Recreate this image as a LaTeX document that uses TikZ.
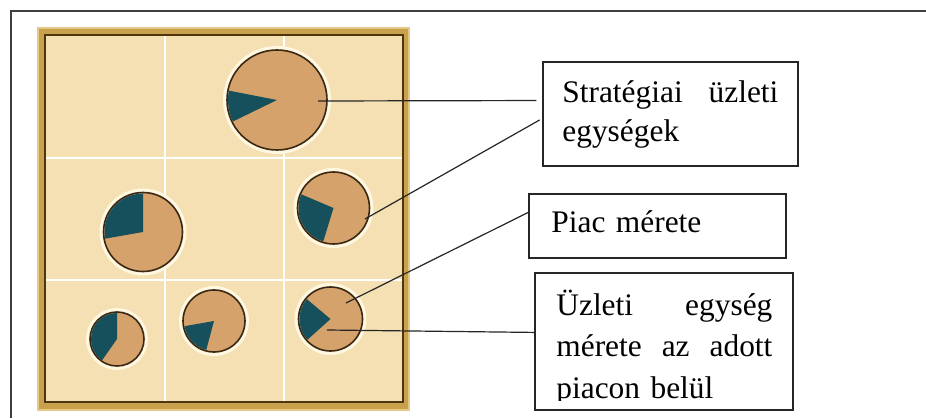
\documentclass[tikz,border=0pt]{standalone}
\usepackage{fontspec}
\setmainfont{Liberation Serif}
\usetikzlibrary{positioning}

\definecolor{panelfill}{HTML}{F4E0B2}
\definecolor{gold}{HTML}{C9A04C}
\definecolor{goldlight}{HTML}{E4C887}
\definecolor{golddark}{HTML}{4F3410}
\definecolor{sbutan}{HTML}{D6A26C}
\definecolor{sbuteal}{HTML}{15505C}
\definecolor{rim}{HTML}{3A2812}
\definecolor{halo}{HTML}{FFF7E0}

\begin{document}
\begin{tikzpicture}[
  x=0.5pt, y=0.5pt,
  sbu/.style={circle, draw=rim, line width=0.8pt, fill=sbutan, inner sep=0pt,
    preaction={draw=halo, line width=4pt}},
  sbushare/.style={fill=sbuteal},
  gridline/.style={draw=white, line width=1.2pt},
  labelbox/.style={rectangle, draw=black!85, line width=0.75pt, inner sep=0pt},
  labeltext/.style={anchor=base west, inner sep=0pt, text width=108pt, align=left,
    font=\fontsize{15.7}{19.5}\selectfont},
  leader/.style={draw=black!85, line width=0.6pt}
]
  \useasboundingbox (0,0) rectangle (926,418);
  \draw[black!75, line width=1pt] (11,0) -- (11,407) -- (926,407);

  % portfolio grid
  \draw[draw=goldlight, fill=gold, line width=0.6pt] (38,8) rectangle (409,390);
  \draw[draw=golddark, fill=panelfill, line width=1.2pt] (45,16) rectangle (403,383);
  \draw[gridline] (165,17) -- (165,382);
  \draw[gridline] (284,17) -- (284,382);
  \draw[gridline] (46,260) -- (402,260);
  \draw[gridline] (46,138) -- (402,138);

  % business units, wedge = own share
  \node[sbu, minimum size=50pt] (big) at (277,318) {};
  \fill[sbushare] (big.center) -- ++(169:49) arc[start angle=169, end angle=206, radius=49] -- cycle;
  \node[sbu, minimum size=39.5pt] (midleft) at (143,186) {};
  \fill[sbushare] (midleft.center) -- ++(90:38.5) arc[start angle=90, end angle=190, radius=38.5] -- cycle;
  \node[sbu, minimum size=36pt] (midright) at (333.5,210) {};
  \fill[sbushare] (midright.center) -- ++(157:35) arc[start angle=157, end angle=253, radius=35] -- cycle;
  \node[sbu, minimum size=27pt] (botleft) at (117,79) {};
  \fill[sbushare] (botleft.center) -- ++(90:26) arc[start angle=90, end angle=235, radius=26] -- cycle;
  \node[sbu, minimum size=31pt] (botmid) at (214,97) {};
  \fill[sbushare] (botmid.center) -- ++(190:30) arc[start angle=190, end angle=255, radius=30] -- cycle;
  \node[sbu, minimum size=32pt] (botright) at (330.5,99) {};
  \fill[sbushare] (botright.center) -- ++(140:31) arc[start angle=140, end angle=222, radius=31] -- cycle;

  % label boxes
  \node[labelbox, minimum width=127.5pt, minimum height=52pt] (lab1) at (670.5,304) {};
  \node[labeltext] (txt1) at (562,315) {Stratégiai\hfill üzleti\\egységek};
  \node[labelbox, minimum width=128.5pt, minimum height=32pt] (lab2) at (657.5,192) {};
  \node[labeltext] (txt2) at (551,185) {Piac mérete};
  \node[labelbox, minimum width=129pt, minimum height=68.5pt] (lab3) at (664,76.5) {};
  \begin{scope}
    \clip (535,18) rectangle (793,145);
    \node[labeltext, font=\fontsize{15.7}{20.75}\selectfont] (txt3) at (556,103)
      {Üzleti\hfill egység\\mérete\hfill az\hfill adott\\piacon belül};
  \end{scope}

  % leaders
  \coordinate (tip1) at ([shift={(41,-1)}]big.center);
  \coordinate (tip2) at ([shift={(31.5,-11)}]midright.center);
  \coordinate (tip3) at ([shift={(15.5,16)}]botright.center);
  \coordinate (tip4) at ([shift={(-3.5,-11)}]botright.center);
  \draw[leader, shorten >=3pt] (tip1) -- (lab1.174);
  \draw[leader, shorten >=1.5pt] (tip2) -- (lab1.182);
  \draw[leader] (tip3) -- (lab2.174);
  \draw[leader] (tip4) -- (lab3.176);
\end{tikzpicture}
\end{document}
